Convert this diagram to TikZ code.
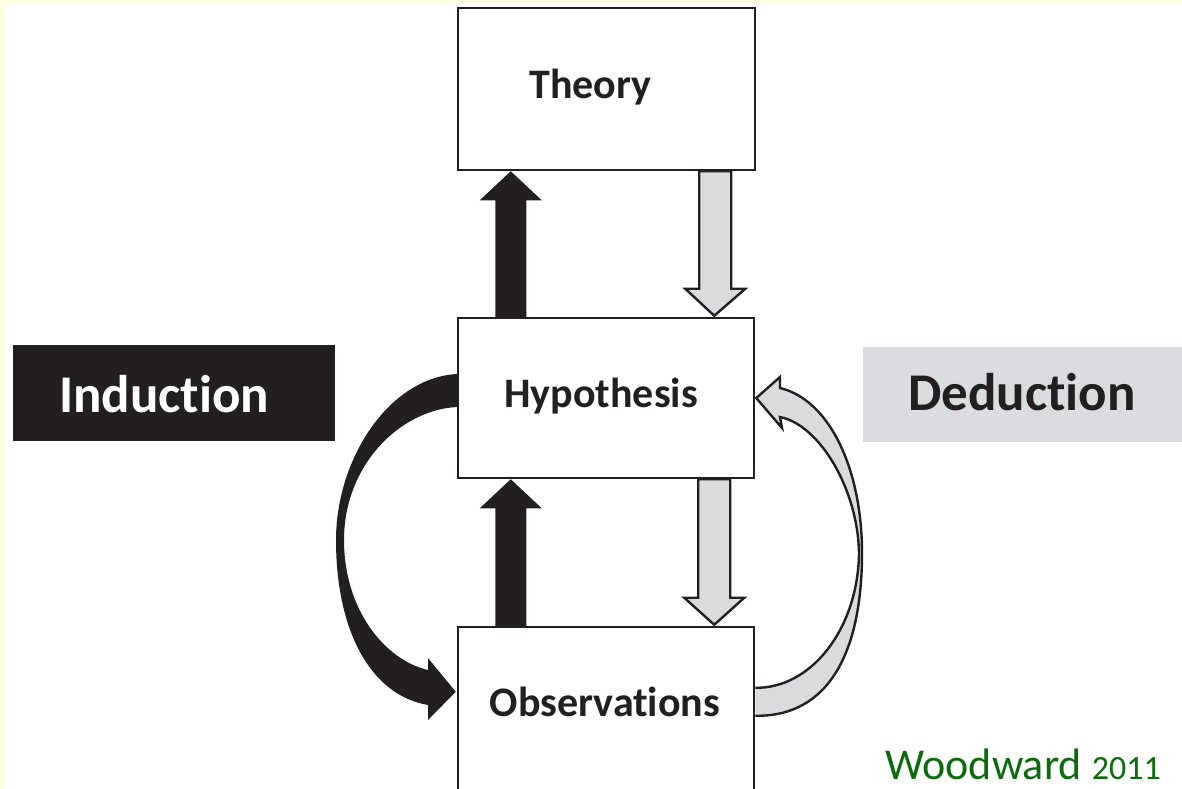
\documentclass[tikz,border=0pt]{standalone}
\usepackage{fontspec}
\setmainfont{Carlito}[Ligatures=NoCommon]
\usetikzlibrary{calc}
\definecolor{blk}{HTML}{231F20}
\definecolor{gry}{HTML}{D9DBDD}
\definecolor{dedbg}{HTML}{DADCDF}
\definecolor{wgreen}{HTML}{0C6B0C}
\definecolor{yel}{HTML}{FFFFE0}
\begin{document}
\begin{tikzpicture}[x=1pt,y=-1pt,
  box/.style={draw=blk, line width=2.5pt, fill=white, rectangle, inner sep=0pt},
  boxtxt/.style={font=\bfseries\fontsize{42}{42}\selectfont, text=blk, inner sep=0pt, anchor=base},
  bigtxt/.style={font=\bfseries\fontsize{53}{53}\selectfont, inner sep=0pt, anchor=base},
  blkarrow/.style={fill=blk},
  gryarrow/.style={fill=gry, draw=blk, line width=2.4pt, line join=miter},
]
\useasboundingbox (0,0) rectangle (1182,788);
\clip (0,0) rectangle (1182,788);
\fill[white] (0,0) rectangle (1182,788);
\fill[yel] (0,0) rectangle (5,788);
\fill[yel] (0,0) rectangle (1182,4);

% boxes (positions)
\path (606.5,89) node[box, minimum width=297pt, minimum height=162pt] (theory) {};
\path (606,398) node[box, minimum width=296pt, minimum height=160pt] (hyp) {};
\path (606,713.5) node[box, minimum width=296pt, minimum height=173pt] (obs) {};

% straight arrows: induction (black, up)
\fill[blkarrow] let \p1=($(hyp.north west)+(54,0)$), \p2=($(theory.south west)+(54,0)$) in
  (\x1-15.5pt,\y1) -- (\x1-15.5pt,\y2-29pt) -- (\x1-31pt,\y2-29pt) -- (\x2,\y2)
  -- (\x1+31pt,\y2-29pt) -- (\x1+15.5pt,\y2-29pt) -- (\x1+15.5pt,\y1) -- cycle;
\fill[blkarrow] let \p1=($(obs.north west)+(54,0)$), \p2=($(hyp.south west)+(54,0)$) in
  (\x1-15.5pt,\y1) -- (\x1-15.5pt,\y2-29pt) -- (\x1-31pt,\y2-29pt) -- (\x2,\y2)
  -- (\x1+31pt,\y2-29pt) -- (\x1+15.5pt,\y2-29pt) -- (\x1+15.5pt,\y1) -- cycle;

% straight arrows: deduction (grey, down)
\filldraw[gryarrow] let \p1=($(theory.south east)+(-41,0)$), \p2=($(hyp.north east)+(-41,0)$) in
  (\x1-16pt,\y1) -- (\x1-16pt,\y2+28pt) -- (\x1-30pt,\y2+28pt) -- (\x2,\y2+1pt)
  -- (\x1+30pt,\y2+28pt) -- (\x1+16pt,\y2+28pt) -- (\x1+16pt,\y1) -- cycle;
\filldraw[gryarrow] let \p1=($(hyp.south east)+(-41,0)$), \p2=($(obs.north east)+(-41,0)$) in
  (\x1-16pt,\y1) -- (\x1-16pt,\y2+28pt) -- (\x1-30pt,\y2+28pt) -- (\x2,\y2+1pt)
  -- (\x1+30pt,\y2+28pt) -- (\x1+16pt,\y2+28pt) -- (\x1+16pt,\y1) -- cycle;

% redraw box outlines on top of arrow ends
\node[box, minimum width=297pt, minimum height=162pt, fill=none] at (theory) {};
\node[box, minimum width=296pt, minimum height=160pt, fill=none] at (hyp) {};
\node[box, minimum width=296pt, minimum height=173pt, fill=none] at (obs) {};

% curved induction arrow (black crescent)
\coordinate (ia) at ($(hyp.west)+(0,-24)$);
\coordinate (ib) at ($(hyp.west)+(0,9)$);
\coordinate (itip) at ($(obs.north west)+(-1,66)$);
\fill[blk] (ia) .. controls (388,378) and (336,460) .. (336,540)
  .. controls (336,630) and (370,695) .. (428,705)
  -- (428,720) -- (itip) -- (428,658) -- (428,670)
  .. controls (385,660) and (344,610) .. (344,540)
  .. controls (344,465) and (400,410) .. (ib) -- cycle;

% curved deduction arrow (grey crescent)
\coordinate (da) at ($(obs.north east)+(0,90)$);
\coordinate (db) at ($(obs.north east)+(0,62)$);
\coordinate (dtip) at ($(hyp.east)+(1,0)$);
\filldraw[gryarrow] (da) .. controls (830,717) and (862,650) .. (862,553)
  .. controls (862,470) and (830,400) .. (780,388)
  -- (780,377) -- (dtip) -- (782,428) -- (780,417)
  .. controls (820,425) and (858,490) .. (859,553)
  .. controls (858,630) and (810,689) .. (db);

% box labels
\node[boxtxt] (theorylbl) at (590.5,98) {Theory};
\node[boxtxt] (hyplbl) at (601,407) {Hypothesis};
\node[boxtxt] (obslbl) at (605,716) {Observations};

% side labels
\node[fill=blk, minimum width=322pt, minimum height=96pt, inner sep=0pt] (indbox) at (174,393) {};
\node[bigtxt, text=white] (indlbl) at (164,412) {Induction};
\node[fill=dedbg, minimum width=327pt, minimum height=95pt, inner sep=0pt] (dedbox) at (1026.5,394.5) {};
\node[bigtxt, text=blk] (dedlbl) at (1022,410) {Deduction};

% source
\node[inner sep=0pt, anchor=base, text depth=0pt, text=wgreen, font=\fontsize{44}{44}\selectfont] (src) at (1023,779) {Woodward {\fontsize{34}{34}\selectfont 2011}};
\end{tikzpicture}
\end{document}
